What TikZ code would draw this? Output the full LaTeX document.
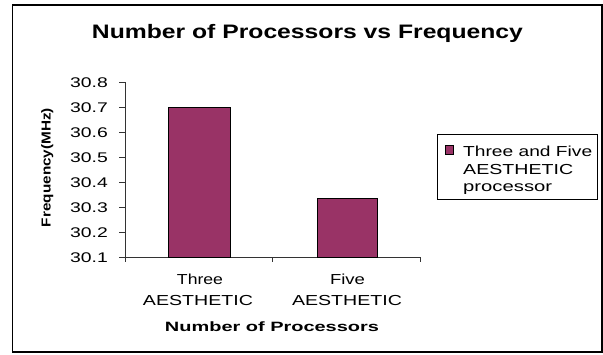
\documentclass[tikz,border=0pt]{standalone}
\usepackage{fontspec}
\setmainfont{Liberation Sans}
\usepackage{graphicx}
\definecolor{plum}{HTML}{993366}
% set a piece of text to a given width, keeping its height
\newcommand{\wfit}[2]{\resizebox{#1pt}{\height}{#2}}
\begin{document}
\begin{tikzpicture}[x=1pt,y=-1pt,
  lbl/.style={inner sep=0pt,font=\fontsize{14.5}{17}\selectfont},
  ticklbl/.style={inner sep=0pt,font=\fontsize{14}{16}\selectfont,anchor=base east},
  axistitle/.style={inner sep=0pt,font=\fontsize{13.5}{16}\selectfont\bfseries,anchor=base},
  axisline/.style={line width=1pt,draw=black!80},
  bar/.style={draw=black,line width=1pt,fill=plum}]
\useasboundingbox (0,0) rectangle (603,354);

% chart frame
\draw[line width=1.2pt] (12.5,5) rectangle (602,352);

% title
\node[inner sep=0pt,anchor=base,font=\fontsize{19.5}{23}\selectfont\bfseries] (title) at (307.5,38)
  {\wfit{431}{Number of Processors vs Frequency}};

% value axis with ticks and labels
\coordinate (origin) at (125,257);
\coordinate (ytop) at (125,82);
\coordinate (xend) at (420,257);
\draw[axisline] (ytop) -- (origin) -- (xend);
\foreach \v [count=\i from 0] in {30.1,30.2,30.3,30.4,30.5,30.6,30.7,30.8} {
  \coordinate (yt\i) at (125,257-25*\i);
  \draw[axisline] (yt\i) -- ++(-6,0);
  \node[ticklbl] (yl\i) at (108,262-25*\i) {\wfit{37.7}{\v}};
}

% category ticks
\foreach \x [count=\i] in {125,272.5,420} {
  \coordinate (xt\i) at (\x,257);
  \draw[axisline] (xt\i) -- ++(0,5);
}

% bars
\draw[bar] (168,257) rectangle (230,107);
\draw[bar] (317,257) rectangle (377,198.5);

% category labels
\node[lbl,anchor=base] (c1a) at (200,284.5) {\wfit{46}{Three}};
\node[lbl,anchor=base] (c1b) at (198,305) {\wfit{110}{AESTHETIC}};
\node[lbl,anchor=base] (c2a) at (347.5,284.5) {\wfit{35}{Five}};
\node[lbl,anchor=base] (c2b) at (347,305) {\wfit{110}{AESTHETIC}};

% axis titles
\node[axistitle] (xtitle) at (272,331) {\wfit{214}{Number of Processors}};
\node[axistitle,rotate=90,font=\fontsize{13}{15}\selectfont\bfseries] (ytitle) at (50.5,167.5)
  {\wfit{119}{Frequency(MHz)}};

% legend
\node[draw,line width=1pt,inner sep=0pt,minimum width=160pt,minimum height=65pt,anchor=north west]
  (legend) at (437,134) {};
\node[draw,line width=0.8pt,fill=plum,inner sep=0pt,minimum size=8.5pt] (key) at (449.5,150) {};
\node[lbl,anchor=base west] (leg1) at (463,156) {\wfit{129}{Three and Five}};
\node[lbl,anchor=base west] (leg2) at (463,174) {\wfit{110}{AESTHETIC}};
\node[lbl,anchor=base west] (leg3) at (463,191.5) {\wfit{89}{processor}};
\end{tikzpicture}
\end{document}
